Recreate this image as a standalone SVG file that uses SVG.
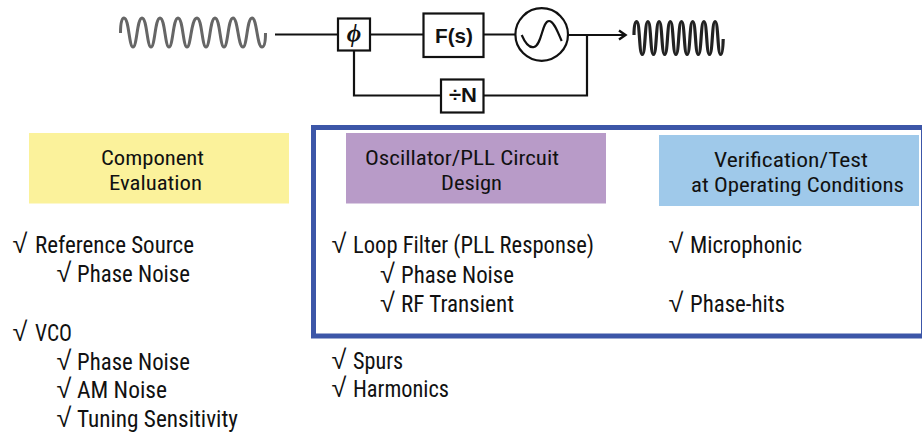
<svg xmlns="http://www.w3.org/2000/svg" width="922" height="434" viewBox="0 0 922 434">
<style>
text{font-family:"Roboto Condensed","Liberation Sans Narrow","Roboto","Liberation Sans",sans-serif;font-size:23.5px;fill:#111}
.h{font-size:21px}
.k{font-family:"Liberation Sans",sans-serif;font-size:27px}
.c{fill:none;stroke:#111;stroke-width:2.2}
.b{fill:#fff;stroke:#111;stroke-width:2.2}
.bt{font-family:"Liberation Sans",sans-serif;font-weight:bold;font-size:21px}
</style>
<defs><marker id="a" markerWidth="12" markerHeight="12" refX="10" refY="6" orient="auto" markerUnits="userSpaceOnUse"><path d="M3 1.500L9.500 6L3 10.500" fill="none" stroke="#111" stroke-width="2.4"/></marker></defs>
<g id="connectors">
<path class="c" d="M275 34.500H338M370 34.500H423M484 34.500H515"/>
<path class="c" d="M568 35H626" marker-end="url(#a)"/>
<path class="c" d="M354 51V95.500H441M483 95.500H587V35"/>
</g>
<g id="wave-in"><path fill="none" stroke="#666" stroke-width="3" d="M120.500 33C120.500 22 122 18 124 18C129 18 129 47 133 47C137 47 137 18 142 18C147 18 147 47 151 47C155 47 155 18 160 18C165 18 165 47 169 47C173 47 173 18 178 18C183 18 183 47 187 47C191 47 191 18 197 18C202 18 202 47 206 47C210 47 210 18 215 18C220 18 220 47 224 47C228 47 228 18 233 18C238 18 238 47 243 47C247 47 247 18 252 18C257 18 257 47 262 47C265 47 265.500 40 265.500 33"/></g>
<g id="wave-out"><path fill="none" stroke="#222" stroke-width="3.2" d="M634 35C634 25 635 21.500 636.700 21.500C640 21.500 639 54.500 642.300 54.500C645.600 54.500 644.600 21.500 647.900 21.500C651.200 21.500 650.200 54.500 653.500 54.500C656.800 54.500 655.800 21.500 659.100 21.500C662.400 21.500 661.400 54.500 664.700 54.500C668 54.500 667 21.500 670.300 21.500C673.600 21.500 672.600 54.500 675.900 54.500C679.200 54.500 678.200 21.500 681.500 21.500C684.800 21.500 683.800 54.500 687.100 54.500C690.400 54.500 689.400 21.500 692.700 21.500C696 21.500 695 54.500 698.300 54.500C701.600 54.500 700.600 21.500 703.900 21.500C707.200 21.500 706.200 54.500 709.500 54.500C712.800 54.500 711.800 21.500 715.100 21.500C718.400 21.500 717.400 54.500 720.700 54.500C722.500 54.500 723 47 723.200 39"/></g>
<g id="phi"><rect class="b" x="338" y="18.500" width="32" height="32"/><text x="354" y="41.500" text-anchor="middle" style="font-family:'Liberation Serif',serif;font-style:italic;font-weight:bold;font-size:25px">ϕ</text></g>
<g id="fs"><rect class="b" x="423.500" y="13.500" width="60" height="43.500"/><text x="435" y="43" class="bt" textLength="38" lengthAdjust="spacingAndGlyphs">F(s)</text></g>
<g id="vco"><circle class="b" cx="541.700" cy="34.500" r="26.300"/><path class="c" d="M521.700 35C526 45 530 48 534 47C542 45 542 21 549 21C554 21 558 33 561.700 41"/></g>
<g id="divn"><rect class="b" x="441" y="79.500" width="42.500" height="33"/><text x="449" y="102.300" class="bt" textLength="28" lengthAdjust="spacingAndGlyphs">÷N</text></g>
<g id="frame"><rect x="313.500" y="127.500" width="610" height="208.500" fill="none" stroke="#3c56a8" stroke-width="5"/></g>
<g id="component"><rect x="29" y="133" width="260" height="70.500" fill="#fbf29b"/><text class="h" x="101" y="165" textLength="103" lengthAdjust="spacingAndGlyphs">Component</text><text class="h" x="109" y="190" textLength="93" lengthAdjust="spacingAndGlyphs">Evaluation</text></g>
<g id="design"><rect x="346" y="133" width="260" height="70.500" fill="#b89bc8"/><text class="h" x="365" y="165" textLength="194" lengthAdjust="spacingAndGlyphs">Oscillator/PLL Circuit</text><text class="h" x="441" y="190" textLength="61" lengthAdjust="spacingAndGlyphs">Design</text></g>
<g id="verify"><rect x="659" y="135" width="260" height="71" fill="#9fc9ea"/><text class="h" x="714" y="167" textLength="154" lengthAdjust="spacingAndGlyphs">Verification/Test</text><text class="h" x="691" y="192" textLength="213" lengthAdjust="spacingAndGlyphs">at Operating Conditions</text></g>
<g id="list-component">
<text y="252.500"><tspan class="k" x="12.500">√</tspan> <tspan x="35" textLength="159" lengthAdjust="spacingAndGlyphs">Reference Source</tspan></text>
<text y="281.500"><tspan class="k" x="56.500">√</tspan> <tspan x="77" textLength="113" lengthAdjust="spacingAndGlyphs">Phase Noise</tspan></text>
<text y="340.500"><tspan class="k" x="12.500">√</tspan> <tspan x="35" textLength="37" lengthAdjust="spacingAndGlyphs">VCO</tspan></text>
<text y="369.500"><tspan class="k" x="56.500">√</tspan> <tspan x="77" textLength="113" lengthAdjust="spacingAndGlyphs">Phase Noise</tspan></text>
<text y="398"><tspan class="k" x="56.500">√</tspan> <tspan x="77" textLength="90" lengthAdjust="spacingAndGlyphs">AM Noise</tspan></text>
<text y="426.500"><tspan class="k" x="56.500">√</tspan> <tspan x="77" textLength="161" lengthAdjust="spacingAndGlyphs">Tuning Sensitivity</tspan></text>
</g>
<g id="list-design">
<text y="253"><tspan class="k" x="331.500">√</tspan> <tspan x="353" textLength="241" lengthAdjust="spacingAndGlyphs">Loop Filter (PLL Response)</tspan></text>
<text y="282.500"><tspan class="k" x="380">√</tspan> <tspan x="401" textLength="113" lengthAdjust="spacingAndGlyphs">Phase Noise</tspan></text>
<text y="311.500"><tspan class="k" x="380">√</tspan> <tspan x="401" textLength="113" lengthAdjust="spacingAndGlyphs">RF Transient</tspan></text>
<text y="369"><tspan class="k" x="331.500">√</tspan> <tspan x="353" textLength="50" lengthAdjust="spacingAndGlyphs">Spurs</tspan></text>
<text y="397"><tspan class="k" x="331.500">√</tspan> <tspan x="353" textLength="96" lengthAdjust="spacingAndGlyphs">Harmonics</tspan></text>
</g>
<g id="list-verify">
<text y="253"><tspan class="k" x="668.500">√</tspan> <tspan x="690" textLength="112" lengthAdjust="spacingAndGlyphs">Microphonic</tspan></text>
<text y="311.500"><tspan class="k" x="668.500">√</tspan> <tspan x="690" textLength="95" lengthAdjust="spacingAndGlyphs">Phase-hits</tspan></text>
</g>
</svg>
